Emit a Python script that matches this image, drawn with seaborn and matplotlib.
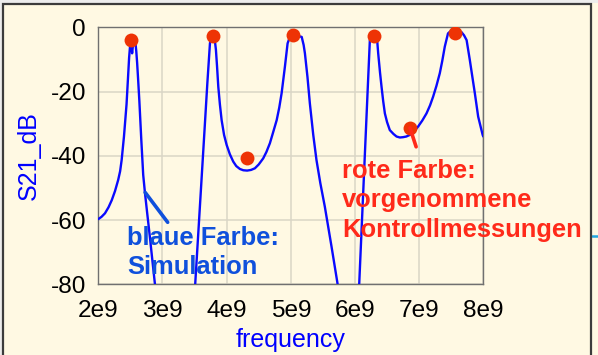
import numpy as np
import pandas as pd
import matplotlib
matplotlib.use("Agg")
import matplotlib.pyplot as plt
from matplotlib.patches import Rectangle
from matplotlib.lines import Line2D
import seaborn as sns

# ---------------- data ----------------
# simulated S21 (blue), three visible segments, frequency in GHz
sim_f1 = [2.0, 2.05, 2.104, 2.16, 2.21, 2.26, 2.31, 2.34, 2.364, 2.40, 2.44, 2.465,
          2.48, 2.495, 2.507, 2.515, 2.527, 2.54, 2.56, 2.58, 2.592, 2.605,
          2.62, 2.64, 2.67, 2.70, 2.727, 2.76, 2.805, 2.845, 2.883]
sim_d1 = [-59.7, -59.0, -57.9, -56.0, -53.8, -51.0, -47.5, -44.8, -41.3, -34.0, -24.0, -15.0,
          -9.5, -5.8, -4.6, -5.5, -8.1, -5.6, -4.8, -5.0, -7.5, -11.0,
          -16.0, -23.0, -35.0, -46.0, -51.5, -57.5, -65.5, -73.0, -80.0]

sim_f2 = [3.51, 3.56, 3.60, 3.65, 3.70, 3.74, 3.76, 3.79, 3.81, 3.833, 3.85, 3.87,
          3.895, 3.922, 3.96, 4.0, 4.05, 4.103, 4.15, 4.207, 4.26, 4.32, 4.38,
          4.44, 4.50, 4.57, 4.62, 4.674, 4.72, 4.78, 4.82, 4.857,
          4.908, 4.95, 4.986, 5.04, 5.10, 5.17, 5.20, 5.22, 5.26, 5.297, 5.35,
          5.40, 5.46, 5.53, 5.635, 5.73]
sim_d2 = [-80.0, -63.5, -50.3, -33.8, -17.2, -5.0, -2.8, -2.4, -3.0, -7.0, -12.0, -18.5,
          -24.0, -28.9, -33.5, -36.6, -39.5, -41.8, -43.2, -44.1, -44.5, -44.6, -44.4,
          -43.9, -42.7, -40.8, -38.8, -36.1, -33.0, -28.9, -25.0, -20.5,
          -12.3, -5.0, -3.0, -2.4, -2.6, -3.0, -5.5, -8.1, -15.5, -23.7, -33.5,
          -41.3, -48.5, -55.8, -68.3, -80.0]

sim_f3 = [6.066, 6.10, 6.15, 6.20, 6.232, 6.26, 6.283, 6.31, 6.346, 6.362,
          6.39, 6.414, 6.44, 6.466, 6.50, 6.543, 6.60, 6.648, 6.70, 6.75, 6.80,
          6.855, 6.92, 6.984, 7.05, 7.115, 7.17, 7.218, 7.27,
          7.322, 7.36, 7.40, 7.45, 7.49, 7.53, 7.60, 7.66, 7.70, 7.74, 7.79,
          7.83, 7.868, 7.92, 7.99, 8.0]
sim_d3 = [-80.0, -64.4, -41.5, -18.6, -4.0, -2.2, -1.9, -2.3, -4.0, -8.1,
          -14.0, -18.5, -23.0, -26.8, -29.5, -32.0, -33.2, -34.0, -34.3, -34.2, -34.0,
          -33.5, -32.4, -30.9, -29.0, -26.8, -24.3, -21.6, -18.2,
          -14.3, -10.5, -6.0, -1.9, -1.2, -1.0, -1.1, -1.5, -2.5, -4.0, -10.2,
          -15.5, -20.5, -27.8, -33.5, -34.0]

# measured control points (red)
meas_f = [2.509, 3.791, 4.321, 5.04, 6.294, 6.855, 7.556]
meas_d = [-3.95, -2.6, -40.6, -2.4, -2.6, -31.3, -1.7]

x_ticks = [2, 3, 4, 5, 6, 7, 8]
x_tick_labels = ["2e9", "3e9", "4e9", "5e9", "6e9", "7e9", "8e9"]
y_ticks = [-80, -60, -40, -20, 0]
y_tick_labels = ["-80", "-60", "-40", "-20", "0"]

blue_note = ["blaue Farbe:", "Simulation"]
red_note = ["rote Farbe:", "vorgenommene", "Kontrollmessungen"]

# ---------------- build tables ----------------
sim = pd.concat([
    pd.DataFrame({"f": np.array(sim_f1) * 1e9, "dB": sim_d1, "seg": 1}),
    pd.DataFrame({"f": np.array(sim_f2) * 1e9, "dB": sim_d2, "seg": 2}),
    pd.DataFrame({"f": np.array(sim_f3) * 1e9, "dB": sim_d3, "seg": 3}),
], ignore_index=True)
meas = pd.DataFrame({"f": np.array(meas_f) * 1e9, "dB": meas_d})

# ---------------- styling ----------------
CREAM = "#FFF9E3"
sns.set_style("white")
plt.rcParams["font.family"] = ["Liberation Sans", "DejaVu Sans"]
plt.rcParams["axes.unicode_minus"] = False

fig = plt.figure(figsize=(5.98, 3.55), dpi=100, facecolor=CREAM)
ax = fig.add_axes([98.3 / 598, 1 - 284.3 / 355, (483.3 - 98.3) / 598, (284.3 - 27.3) / 355])
ax.set_facecolor(CREAM)

sns.lineplot(data=sim, x="f", y="dB", units="seg", estimator=None, sort=False,
             color="#0A0AFF", linewidth=1.7, ax=ax, zorder=3, legend=False)
sns.scatterplot(data=meas, x="f", y="dB", color="#EE3305", s=100, linewidth=0,
                ax=ax, zorder=4, legend=False)

ax.set_xlim(2e9, 8e9)
ax.set_ylim(-80, 0)
ax.set_xticks(np.array(x_ticks) * 1e9)
ax.set_xticklabels(x_tick_labels)
ax.set_yticks(y_ticks)
ax.set_yticklabels(y_tick_labels)

ax.grid(True, color="#DAD6C6", linewidth=1.1, zorder=0)
ax.set_axisbelow(True)
for s in ax.spines.values():
    s.set_color("#707070")
    s.set_linewidth(1.0)
    s.set_visible(True)
ax.tick_params(axis="both", direction="inout", length=11.2, width=1.0,
               color="#606060", labelsize=17.6, labelcolor="black")
ax.tick_params(axis="y", pad=3.2)
ax.tick_params(axis="x", pad=6.0)

ax.set_xlabel("frequency", color="#0000FF", fontsize=18, labelpad=4)
ax.set_ylabel("S21_dB", color="#0000FF", fontsize=18, labelpad=7)

# ---------------- annotations ----------------
BLUE_T = "#0F50DC"
RED_T = "#FF2A1A"
note_font = dict(family=["Liberation Sans", "DejaVu Sans"], fontweight="bold", fontsize=18.4)

ax.annotate("", xy=(2.73e9, -51.4), xytext=(3.081e9, -60.7),
            arrowprops=dict(arrowstyle="-", color=BLUE_T, lw=2.6, shrinkA=0, shrinkB=0),
            zorder=5)
ax.annotate("", xy=(6.857e9, -31.3), xytext=(6.953e9, -37.2),
            arrowprops=dict(arrowstyle="-", color=RED_T, lw=2.6, shrinkA=0, shrinkB=0),
            zorder=5)

blue_base = [-67.8, -76.8]
for txt, yb in zip(blue_note, blue_base):
    ax.text(2.452e9, yb, txt, color=BLUE_T, ha="left", va="baseline",
            clip_on=False, zorder=6, **note_font)
red_base = [-46.8, -55.85, -65.2]
for txt, yb in zip(red_note, red_base):
    ax.text(5.80e9, yb, txt, color=RED_T, ha="left", va="baseline",
            clip_on=False, zorder=6, **note_font)

# ---------------- screenshot frame ----------------
fig.patches.append(Rectangle((0, 1 - 2.5 / 355), 1, 2.5 / 355, transform=fig.transFigure,
                             facecolor="#EDEDED", edgecolor="none", zorder=0))
fig.patches.append(Rectangle((0, 0), 2.5 / 598, 1, transform=fig.transFigure,
                             facecolor="#EDEDED", edgecolor="none", zorder=0))
fig.patches.append(Rectangle((3.5 / 598, -0.05), (591 - 3.5) / 598, 1.05 - 3.5 / 355,
                             transform=fig.transFigure, facecolor="none",
                             edgecolor="#3C3C3C", linewidth=1.6, zorder=10))
fig.lines.append(Line2D([592 / 598, 1.0], [1 - 235.5 / 355, 1 - 235.5 / 355],
                        transform=fig.transFigure, color="#22A6E0", linewidth=1.8))

fig.savefig("out.png", dpi=100, facecolor=CREAM)
